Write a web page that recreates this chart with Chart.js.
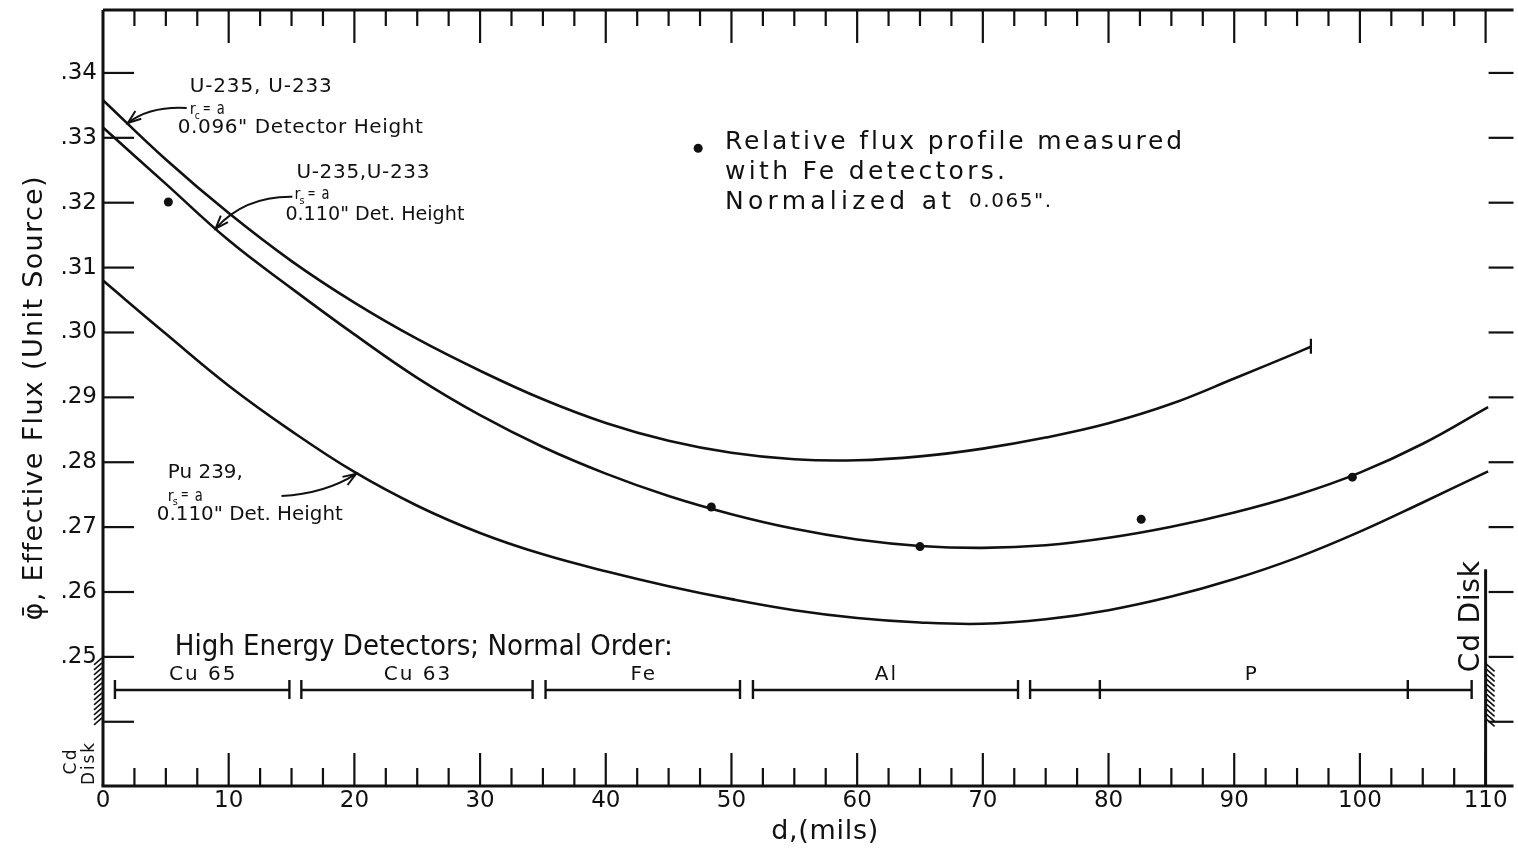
<!DOCTYPE html>
<html>
<head>
<meta charset="utf-8">
<title>Effective flux profile</title>
<script src="https://cdn.jsdelivr.net/npm/chart.js@4.4.1/dist/chart.umd.min.js"></script>
<style>
  html, body { margin: 0; padding: 0; background: #fff; }
  #wrap { width: 1518px; height: 849px; }
</style>
</head>
<body>
<div id="wrap"><canvas id="fluxChart" width="1518" height="849"></canvas></div>
<script>
// U-235, U-233, r_c = a, 0.096" detector height
const xTop = [0, 5, 10, 15, 20, 25, 30, 35, 40, 45, 50, 55, 60, 65, 70, 75, 80, 85, 90, 95, 96.1];
const yTop = [.3358, .32665, .3184, .3110, .3046, .2990, .2941, .2897, .28605, .2833, .28145, .28045, .2803, .2809, .2821, .2838, .2860, .2890, .2929, .2969, .2978];

// U-235, U-233, r_s = a, 0.110" detector height
const xMid = [0, 5, 10, 15, 20, 25, 30, 35, 40, 45, 50, 55, 60, 65, 70, 75, 80, 85, 90, 95, 100, 105, 110.2];
const yMid = [.3316, .3229, .3142, .3068, .2997, .2930, .28725, .28235, .27825, .2748, .2720, .26975, .2681, .2671, .2668, .2672, .26835, .27005, .27225, .27495, .2784, .28285, .2885];

// Pu 239, r_s = a, 0.110" detector height
const xPu = [0, 5, 10, 15, 20, 25, 30, 35, 40, 45, 50, 55, 60, 65, 70, 75, 80, 85, 90, 95, 100, 105, 110.2];
const yPu = [.3080, .2998, .2918, .2848, .2785, .2733, .2691, .2658, .2632, .2609, .2589, .2572, .2560, .2553, .2551, .2558, .2572, .2593, .2620, .2653, .2693, .2738, .2786];

// relative flux measured with Fe detectors (normalized at 65 mils)
const xFe = [5.2, 48.4, 65.0, 82.6, 99.4];
const yFe = [.3201, .2731, .2670, .2712, .2777];

const xTickLabels = [0, 10, 20, 30, 40, 50, 60, 70, 80, 90, 100, 110];
const yTickValues = [.24, .25, .26, .27, .28, .29, .30, .31, .32, .33, .34];

// high energy detectors, normal order (mils)
const detectorNames = ["Cu 65", "Cu 63", "Fe", "Al", "P"];
const detectorFrom = [0.95, 15.78, 35.21, 51.71, 73.76];
const detectorTo = [14.83, 34.18, 50.68, 72.80, 108.89];
const detectorSplits = [79.31, 103.81];

const INK = "#111";
const FONT = "'DejaVu Sans', 'Liberation Sans', sans-serif";

function pts(xs, ys) {
    return xs.map((x, i) => ({ x: x, y: ys[i] }));
}

// draws text stretched or squeezed to a given width
function fitText(ctx, text, x, y, w, size, align) {
    ctx.font = size + "px " + FONT;
    ctx.letterSpacing = "0px";
    const natural = ctx.measureText(text).width;
    const n = Array.from(text).length;
    const left = align === "center" ? x - w / 2 : x;
    ctx.textAlign = "left";
    ctx.textBaseline = "middle";
    if (natural < w) {
        ctx.letterSpacing = ((w - natural) / Math.max(n - 1, 1)) + "px";
        ctx.fillText(text, left, y);
    } else {
        ctx.fillText(text, left, y, w);
    }
    ctx.letterSpacing = "0px";
}

function line(ctx, x1, y1, x2, y2) {
    ctx.beginPath();
    ctx.moveTo(x1, y1);
    ctx.lineTo(x2, y2);
    ctx.stroke();
}

// "r_s = a" style label
function radiusLabel(ctx, x, y, sub) {
    fitText(ctx, "r", x, y, 6, 16);
    fitText(ctx, sub, x + 5, y + 6, 5, 10);
    fitText(ctx, "=", x + 13, y - 1, 8, 14);
    fitText(ctx, "a", x + 27, y, 8, 17);
}

function arrow(ctx, x1, y1, cx, cy, x2, y2) {
    ctx.beginPath();
    ctx.moveTo(x1, y1);
    ctx.quadraticCurveTo(cx, cy, x2, y2);
    ctx.stroke();
    const a = Math.atan2(y2 - cy, x2 - cx);
    ctx.beginPath();
    ctx.moveTo(x2 - 14 * Math.cos(a - 0.35), y2 - 14 * Math.sin(a - 0.35));
    ctx.lineTo(x2, y2);
    ctx.lineTo(x2 - 14 * Math.cos(a + 0.35), y2 - 14 * Math.sin(a + 0.35));
    ctx.stroke();
}

const framePlugin = {
    id: "frame",
    afterDatasetsDraw(chart) {
        const ctx = chart.ctx;
        const { left, right, top, bottom } = chart.chartArea;
        const sx = chart.scales.x, sy = chart.scales.y;
        const X = v => sx.getPixelForValue(v);
        const Y = v => sy.getPixelForValue(v);

        ctx.save();
        ctx.strokeStyle = INK;
        ctx.fillStyle = INK;
        ctx.lineCap = "butt";

        // border
        ctx.lineWidth = 3;
        line(ctx, left, top, right, top);
        line(ctx, left - 1.5, bottom, right, bottom);
        line(ctx, left, top, left, bottom);
        line(ctx, X(110), Y(.2635), X(110), bottom);

        // ticks along top and bottom, every 2.5 mils
        ctx.lineWidth = 2.2;
        for (let v = 2.5; v <= 110.01; v += 2.5) {
            const major = Math.abs(v % 10) < 0.01;
            const px = X(v);
            line(ctx, px, bottom, px, bottom - (major ? 33 : 18));
            line(ctx, px, top, px, top + (major ? 33 : 16));
        }
        // ticks on both sides, every .01
        yTickValues.forEach(v => {
            line(ctx, left, Y(v), left + 31, Y(v));
            line(ctx, X(110) + 3, Y(v), right, Y(v));
        });

        // Cd disk hatching
        ctx.lineWidth = 1.6;
        for (let py = Y(.25) + 2; py < Y(.24); py += 5) {
            line(ctx, left - 9, py + 6, left - 1, py - 1);
        }
        for (let py = Y(.249) + 2; py < Y(.24); py += 5) {
            line(ctx, X(110) + 1, py - 1, X(110) + 9, py + 6);
        }

        // Cd disk labels
        ctx.save();
        ctx.translate(left - 31, bottom - 24);
        ctx.rotate(-Math.PI / 2);
        fitText(ctx, "Cd", 0, 0, 25, 17, "center");
        ctx.restore();
        ctx.save();
        ctx.translate(left - 13, bottom - 22);
        ctx.rotate(-Math.PI / 2);
        fitText(ctx, "Disk", 0, 0, 42, 17, "center");
        ctx.restore();
        ctx.save();
        ctx.translate(X(108.89), Y(.2562));
        ctx.rotate(-Math.PI / 2);
        fitText(ctx, "Cd Disk", 0, 0, 111, 28, "center");
        ctx.restore();

        // end mark on the 0.096" curve
        const topMeta = chart.getDatasetMeta(0).data;
        const end = topMeta[topMeta.length - 1];
        ctx.lineWidth = 2.2;
        line(ctx, end.x, end.y - 8, end.x, end.y + 7);

        // detector ranges
        const barY = Y(.2449);
        const labY = Y(.2472);
        ctx.lineWidth = 2.4;
        detectorNames.forEach((name, i) => {
            const a = X(detectorFrom[i]), b = X(detectorTo[i]);
            line(ctx, a, barY, b, barY);
            line(ctx, a, barY - 10, a, barY + 9);
            line(ctx, b, barY - 10, b, barY + 9);
            ctx.font = "20px " + FONT;
            const w = ctx.measureText(name).width + (name.length - 1) * 2;
            fitText(ctx, name, (a + b) / 2, labY, w, 20, "center");
        });
        detectorSplits.forEach(v => line(ctx, X(v), barY - 10, X(v), barY + 9));
        fitText(ctx, "High Energy Detectors; Normal Order:", X(5.71), Y(.2514), 498, 28);

        // curve labels
        ctx.lineWidth = 2;
        fitText(ctx, "U-235, U-233", X(6.9), Y(.3378), 142, 20);
        radiusLabel(ctx, X(6.9), Y(.3343), "c");
        fitText(ctx, "0.096\" Detector Height", X(5.95), Y(.3315), 245, 20);
        arrow(ctx, X(6.66), Y(.3346), X(3.73), Y(.3349), X(1.98), Y(.3323));

        fitText(ctx, "U-235,U-233", X(15.39), Y(.3246), 133, 20);
        radiusLabel(ctx, X(15.23), Y(.3212), "s");
        fitText(ctx, "0.110\" Det. Height", X(14.51), Y(.3181), 179, 20);
        arrow(ctx, X(15.07), Y(.3209), X(11.26), Y(.3210), X(8.96), Y(.3160));

        fitText(ctx, "Pu 239,", X(5.16), Y(.2784), 75, 20);
        radiusLabel(ctx, X(5.16), Y(.2747), "s");
        fitText(ctx, "0.110\" Det. Height", X(4.28), Y(.2719), 186, 20);
        arrow(ctx, X(14.2), Y(.2748), X(17.61), Y(.2751), X(20.14), Y(.2782));

        // key for the measured points
        ctx.beginPath();
        ctx.arc(X(47.35), Y(.3284), 4.5, 0, Math.PI * 2);
        ctx.fill();
        fitText(ctx, "Relative flux profile measured", X(49.49), Y(.3293), 457, 25);
        fitText(ctx, "with Fe detectors.", X(49.49), Y(.3247), 280, 25);
        fitText(ctx, "Normalized at", X(49.49), Y(.3201), 226, 25);
        fitText(ctx, "0.065\".", X(68.9), Y(.3201), 82, 20);

        // axis titles
        fitText(ctx, "d,(mils)", X(57.42), bottom + 46, 107, 27, "center");
        ctx.save();
        ctx.translate(left - 68, (top + bottom) / 2);
        ctx.rotate(-Math.PI / 2);
        fitText(ctx, "\u03C6\u0304, Effective Flux (Unit Source)", 0, 0, 445, 27, "center");
        ctx.restore();

        ctx.restore();
    }
};

const curveStyle = {
    borderColor: INK,
    borderWidth: 2.6,
    pointRadius: 0,
    fill: false,
    tension: 0.4
};

const chart = new Chart(document.getElementById("fluxChart"), {
    type: "line",
    data: {
        datasets: [
            Object.assign({ label: "U-235, U-233 (0.096\")", data: pts(xTop, yTop) }, curveStyle),
            Object.assign({ label: "U-235, U-233 (0.110\")", data: pts(xMid, yMid) }, curveStyle),
            Object.assign({ label: "Pu 239 (0.110\")", data: pts(xPu, yPu) }, curveStyle),
            {
                type: "scatter",
                label: "Fe detectors",
                data: pts(xFe, yFe),
                pointRadius: 4.5,
                pointBackgroundColor: INK,
                pointBorderWidth: 0,
                showLine: false
            }
        ]
    },
    options: {
        responsive: false,
        animation: false,
        layout: { padding: { top: 10, right: 0, bottom: 0, left: 0 } },
        plugins: { legend: { display: false }, tooltip: { enabled: false } },
        scales: {
            x: {
                type: "linear",
                min: 0,
                max: 112.22,
                afterFit(scale) {
                    scale.height = 63;
                    scale.paddingLeft = 0;
                    scale.paddingRight = 0;
                },
                afterBuildTicks(scale) { scale.ticks = xTickLabels.map(v => ({ value: v })); },
                grid: { display: false, drawTicks: false },
                border: { display: false },
                ticks: { color: INK, font: { family: FONT, size: 23 }, padding: 1, maxRotation: 0, autoSkip: false }
            },
            y: {
                type: "linear",
                min: .2301,
                max: .3497,
                afterFit(scale) {
                    scale.width = 103;
                    scale.paddingTop = 0;
                    scale.paddingBottom = 0;
                },
                afterBuildTicks(scale) { scale.ticks = yTickValues.map(v => ({ value: v })); },
                grid: { display: false, drawTicks: false },
                border: { display: false },
                ticks: {
                    color: INK,
                    font: { family: FONT, size: 23 },
                    padding: 6,
                    callback: v => v >= .2499 ? v.toFixed(2).slice(1) : ""
                }
            }
        }
    },
    plugins: [framePlugin]
});
</script>
</body>
</html>
